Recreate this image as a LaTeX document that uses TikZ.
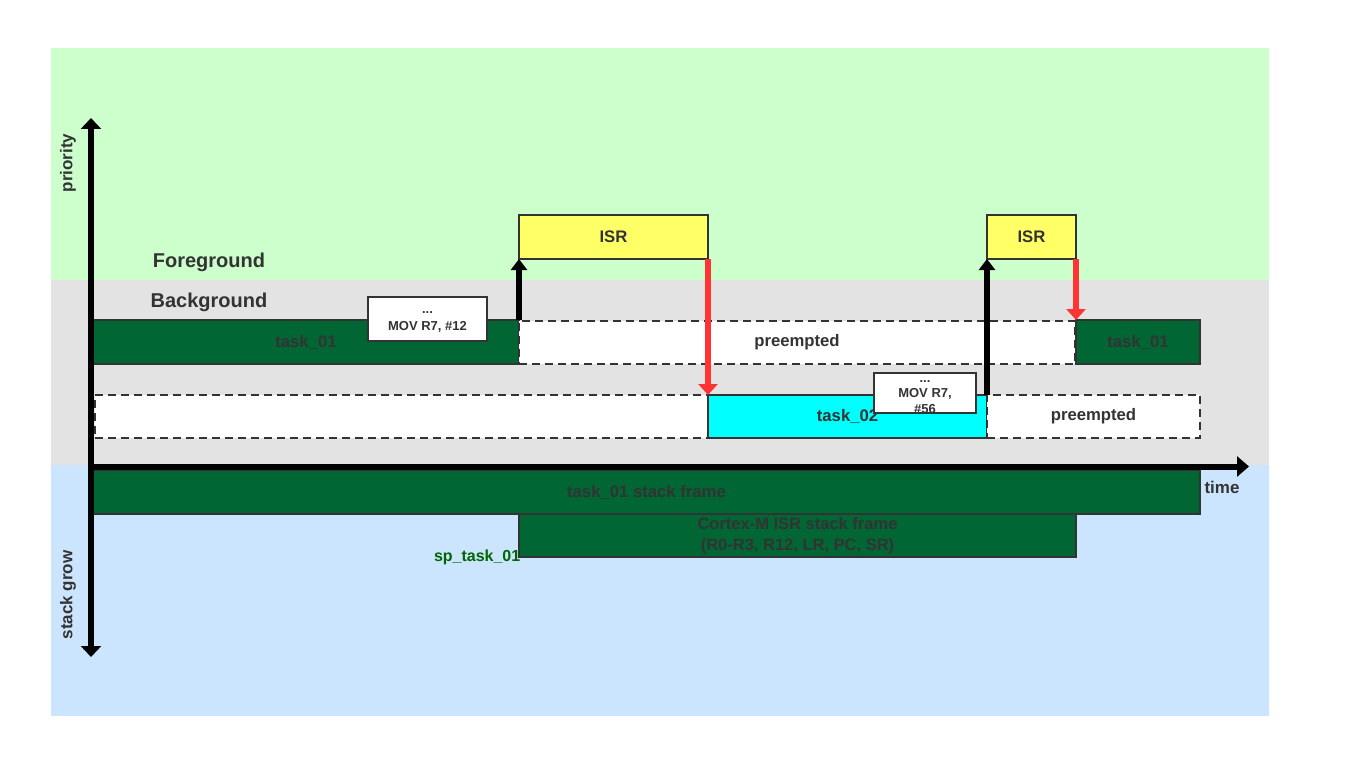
\documentclass[tikz,border=0pt]{standalone}
\usepackage{fontspec}
\setmainfont{Liberation Sans}
\usetikzlibrary{arrows.meta}
\definecolor{bggreen}{HTML}{CCFFCC}
\definecolor{bggrey}{HTML}{E3E3E3}
\definecolor{bgblue}{HTML}{CCE5FF}
\definecolor{dkgreen}{HTML}{006633}
\definecolor{txtgrey}{HTML}{333333}
\definecolor{isryellow}{HTML}{FFFF66}
\definecolor{taskcyan}{HTML}{00FFFF}
\definecolor{redarrow}{HTML}{FF3333}
\definecolor{spgreen}{HTML}{006600}
\tikzset{
  box/.style={draw=txtgrey, line width=1.6pt, inner sep=0pt, outer sep=0pt, text=txtgrey,
    font=\bfseries\fontsize{16.7}{19}\selectfont, align=center},
  taskbox/.style={box, fill=dkgreen},
  dashbox/.style={box, fill=white, dash pattern=on 8pt off 5pt},
  movbox/.style={box, fill=white},
  movtext/.style={text=txtgrey, font=\bfseries\fontsize{13}{15}\selectfont, inner sep=0pt},
  upblack/.style={line width=5.5pt, -{Triangle[width=16pt,length=11pt]}, black},
  downred/.style={line width=6.5pt, -{Triangle[width=19pt,length=11pt]}, redarrow},
  axis/.style={line width=6pt, black},
  lbl/.style={text=txtgrey, font=\bfseries\fontsize{17}{19}\selectfont, inner sep=0pt},
}
\begin{document}
\begin{tikzpicture}[x=1pt, y=-1pt]
\useasboundingbox (0,0) rectangle (1364,778);
% backgrounds
\fill[bggreen] (51,48) rectangle (1269,280);
\fill[bggrey] (51,280) rectangle (1269,465);
\fill[bgblue] (51,465) rectangle (1269,716);
% labels
\node[lbl, font=\bfseries\fontsize{20}{24}\selectfont] (fg) at (209,262) {Foreground};
\node[lbl, font=\bfseries\fontsize{20}{24}\selectfont] (bg) at (209,302) {Background};
\node[lbl, rotate=90] (prio) at (68,163) {priority};
\node[lbl, rotate=90] (sgrow) at (68,595) {stack grow};
\node[lbl] (time) at (1222,487) {time};
% boxes
\node[box, fill=isryellow, minimum width=189pt, minimum height=44pt] (isr1) at (613.5,237) {ISR};
\node[box, fill=isryellow, minimum width=89pt, minimum height=44pt] (isr2) at (1031.5,237) {ISR};
\node[taskbox, minimum width=426pt, minimum height=44pt] (task01a) at (306,342) {task\_01};
\node[dashbox, minimum width=556pt, minimum height=43pt] (pre1) at (797,342.5) {preempted};
\node[taskbox, minimum width=124pt, minimum height=44pt] (task01b) at (1138,342) {task\_01};
\node[movbox, minimum width=119pt, minimum height=44pt] (mov1) at (427.5,319) {};
\node[movtext] (mov1a) at (427.5,313) {...};
\node[movtext] (mov1b) at (427.5,326.5) {MOV R7, \#12};
\node[dashbox, minimum width=613pt, minimum height=43pt] (idle) at (401.5,416.5) {};
\node[box, fill=taskcyan, minimum width=279pt, minimum height=43pt] (task02) at (847.5,416.5) {task\_02};
\node[dashbox, minimum width=213pt, minimum height=43pt] (pre2) at (1093.5,416.5) {preempted};
\node[movbox, minimum width=102pt, minimum height=40pt] (mov2) at (925,393) {};
\node[movtext, align=center, font=\bfseries\fontsize{13}{15.5}\selectfont] (mov2t) at (925,397) {...\\MOV R7,\\\#56};
\node[taskbox, minimum width=1107pt, minimum height=44pt] (sframe) at (646.5,492) {task\_01 stack frame};
\node[taskbox, minimum width=557pt, minimum height=43pt, font=\bfseries\fontsize{16.5}{21}\selectfont] (isrframe) at (797.5,535.5) {Cortex-M ISR stack frame\\(R0-R3, R12, LR, PC, SR)};
\node[text=spgreen, font=\bfseries\fontsize{16}{19}\selectfont, inner sep=0pt, anchor=east] (sp) at (isrframe.south west) [xshift=1.5pt, yshift=0pt] {sp\_task\_01};
% event arrows
\draw[upblack] (task01a.north east) -- (isr1.south west);
\draw[downred] (isr1.south east) -- (task02.north west);
\draw[upblack] (task02.north east) -- (isr2.south west);
\draw[downred] (isr2.south east) -- (task01b.north west);
% axes
\coordinate (ytop) at (91,118);
\coordinate (ybot) at (91,657);
\coordinate (orig) at (91,466.5);
\coordinate (xend) at (1249,466.5);
\draw[axis, {Triangle[width=20pt,length=11pt]}-{Triangle[width=20pt,length=11pt]}] (ybot) -- (ytop);
\draw[axis, -{Triangle[width=20pt,length=12pt]}] (orig) -- (xend);
\end{tikzpicture}
\end{document}
